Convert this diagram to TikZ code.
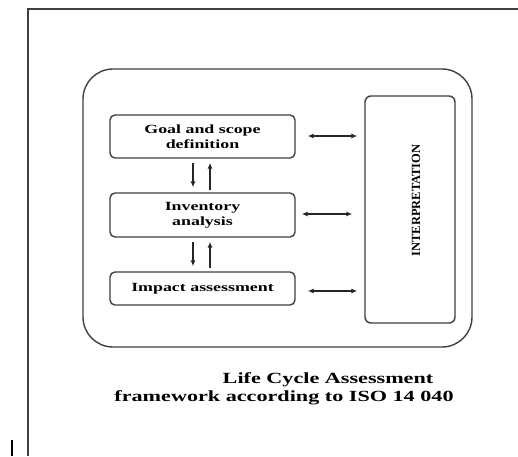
\documentclass[tikz,border=0pt]{standalone}
\usepackage{fontspec}
\setmainfont{Liberation Serif}
\newfontfamily\widefont{Liberation Serif}[FakeStretch=1.43]
\usetikzlibrary{arrows.meta}
\begin{document}
\begin{tikzpicture}[x=1pt,y=-1pt,
  box/.style={draw=black!75,line width=1.4pt,rounded corners=5pt,align=center,
    inner sep=0pt,minimum width=185pt,font=\widefont\bfseries\fontsize{12.5}{15}\selectfont},
  conn/.style={line width=1.4pt,black!85,-{Latex[length=6pt,width=5pt]}},
  dconn/.style={line width=1.4pt,black!85,{Latex[length=6pt,width=5pt]}-{Latex[length=6pt,width=5pt]}},
  captext/.style={font=\widefont\bfseries\fontsize{15.5}{18}\selectfont,inner sep=0pt}]
\useasboundingbox (0,0) rectangle (518,456);
\fill[white] (0,0) rectangle (518,456);
% page frame
\draw[line width=2.2pt,black!75] (518,9) -- (28,9) -- (28,456);
\draw[line width=2pt,black] (12,440) -- (12,456);
% outer rounded frame
\node[draw=black!75,line width=1.4pt,rounded corners=30pt,minimum width=389pt,minimum height=278pt,inner sep=0pt] (outer) at (277.5,208) {};
% boxes
\node[box,minimum height=43pt] (goal) at (202.5,136.5) {Goal and scope\\definition};
\node[box,minimum height=44pt] (inv) at (202.5,215) {Inventory\\analysis};
\node[box,minimum height=33pt] (imp) at (202.5,288.5) {Impact assessment};
\node[draw=black!75,line width=1.4pt,rounded corners=6pt,minimum width=90pt,minimum height=227pt,inner sep=0pt] (interp) at (410,209.5) {};
\node[rotate=90,font=\bfseries\fontsize{12.5}{15}\selectfont,inner sep=0pt] (interptext) at ([yshift=9pt,xshift=6pt]interp.center) {INTERPRETATION};
% horizontal arrows
\coordinate (ga) at ([yshift=0.5pt]goal.east);
\coordinate (ia) at ([yshift=1pt]inv.east);
\coordinate (ma) at ([yshift=-2.5pt]imp.east);
\draw[dconn,shorten <=12pt,shorten >=7pt] (ga) -- (interp.west |- ga);
\draw[dconn,shorten <=6pt,shorten >=12pt] (ia) -- (interp.west |- ia);
\draw[dconn,shorten <=12pt,shorten >=7pt] (ma) -- (interp.west |- ma);
% vertical arrows
\draw[conn,shorten <=4pt,shorten >=5pt] ([xshift=-9.5pt]goal.south) -- ([xshift=-9.5pt]inv.north);
\draw[conn,shorten <=2pt,shorten >=4pt] ([xshift=7.5pt]inv.north) -- ([xshift=7.5pt]goal.south);
\draw[conn,shorten <=4pt,shorten >=5pt] ([xshift=-9.5pt]inv.south) -- ([xshift=-9.5pt]imp.north);
\draw[conn,shorten <=3pt,shorten >=4pt] ([xshift=7.5pt]imp.north) -- ([xshift=7.5pt]inv.south);
% caption
\node[captext] (cap1) at (328,380) {Life Cycle Assessment};
\node[captext] (cap2) at (284,398) {framework according to ISO 14 040};
\end{tikzpicture}
\end{document}
